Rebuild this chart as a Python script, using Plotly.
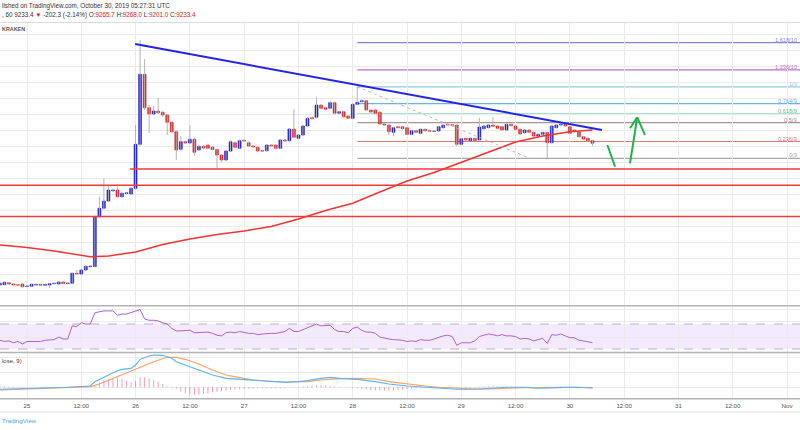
import pandas as pd
import plotly.graph_objects as go
from plotly.subplots import make_subplots

# ---------------- data ----------------
candle_start = "2019-10-24 18:00"   # hourly candles
opens = [7462, 7466, 7491, 7475, 7466, 7475,
         7444, 7448, 7462, 7471, 7458, 7462, 7479, 7475, 7500, 7481,
         7484, 7609, 7600, 7650, 7692, 7692, 8316, 8421, 8512, 8641,
         8650, 8566, 8605, 8600, 8671, 9221, 10096, 9679, 9600, 9637,
         9621, 9587, 9496, 9379, 9159, 9254, 9237, 9284, 9150, 9194,
         9212, 9187, 9156, 9087, 9025, 9137, 9241, 9171, 9271, 9241,
         9200, 9184, 9137, 9141, 9212, 9212, 9171, 9275, 9266, 9412,
         9296, 9337, 9450, 9554, 9559, 9712, 9679, 9671, 9741, 9609,
         9629, 9575, 9546, 9721, 9754, 9766, 9650, 9650, 9621, 9475,
         9462, 9371, 9441, 9441, 9429, 9346, 9391, 9359, 9409, 9391,
         9384, 9387, 9429, 9471, 9466, 9462, 9221, 9296, 9266, 9296,
         9275, 9416, 9429, 9462, 9450, 9441, 9400, 9471, 9450, 9409,
         9366, 9400, 9371, 9325, 9346, 9369, 9241, 9429, 9462, 9471,
         9441, 9400, 9379, 9316, 9296, 9265.7]
highs = [7495, 7510, 7500, 7482, 7475, 7480,
         7458, 7478, 7480, 7476, 7478, 7485, 7492, 7510, 7506, 7495,
         7620, 7650, 7665, 7705, 7712, 8330, 8566, 8796, 8700, 8668,
         8691, 8625, 8630, 8685, 9462, 10525, 10287, 9712, 9704, 9804,
         9640, 9600, 9510, 9395, 9325, 9270, 9462, 9300, 9220, 9212,
         9230, 9200, 9170, 9100, 9150, 9270, 9255, 9280, 9285, 9255,
         9210, 9195, 9150, 9225, 9222, 9220, 9287, 9282, 9425, 9659,
         9350, 9462, 9560, 9565, 9816, 9725, 9690, 9760, 9752, 9640,
         9640, 9585, 9735, 9941, 9780, 9775, 9660, 9662, 9635, 9485,
         9475, 9440, 9452, 9450, 9440, 9402, 9400, 9420, 9418, 9400,
         9395, 9452, 9475, 9480, 9475, 9472, 9300, 9305, 9306, 9305,
         9554, 9460, 9475, 9562, 9460, 9450, 9482, 9480, 9460, 9418,
         9410, 9410, 9380, 9355, 9378, 9380, 9462, 9472, 9500, 9480,
         9450, 9410, 9390, 9325, 9305, 9268.0]
lows = [7455, 7460, 7468, 7455, 7452, 7432,
        7436, 7440, 7455, 7452, 7450, 7425, 7472, 7470, 7476, 7474,
        7478, 7590, 7595, 7640, 7684, 7685, 8300, 8405, 8500, 8625,
        8555, 8550, 8596, 8590, 8660, 9200, 9650, 9362, 9585, 9600,
        9570, 9337, 9360, 9025, 9140, 9225, 9228, 9080, 9135, 9160,
        9160, 9145, 8925, 9000, 9010, 9125, 9170, 9160, 9250, 9190,
        9180, 9125, 9128, 9130, 9190, 9160, 9160, 9252, 9246, 9300,
        9285, 9325, 9440, 9530, 9545, 9655, 9645, 9660, 9595, 9598,
        9555, 9536, 9535, 9710, 9745, 9638, 9612, 9598, 9460, 9450,
        9337, 9325, 9420, 9405, 9335, 9335, 9360, 9348, 9382, 9375,
        9377, 9378, 9420, 9452, 9450, 9200, 9210, 9265, 9258, 9255,
        9265, 9405, 9420, 9437, 9410, 9390, 9390, 9445, 9400, 9340,
        9355, 9362, 9315, 9315, 9335, 9046, 9230, 9420, 9455, 9440,
        9350, 9370, 9305, 9278, 9255, 9201.0]
closes = [7484, 7496, 7475, 7462, 7460, 7441,
          7450, 7471, 7470, 7459, 7471, 7479, 7484, 7500, 7481, 7488,
          7609, 7600, 7650, 7696, 7700, 8316, 8421, 8512, 8650, 8650,
          8566, 8609, 8616, 8671, 9221, 10096, 9679, 9600, 9637, 9616,
          9587, 9496, 9379, 9150, 9254, 9237, 9284, 9121, 9194, 9175,
          9171, 9156, 9087, 9025, 9137, 9254, 9184, 9266, 9262, 9200,
          9187, 9137, 9141, 9212, 9200, 9171, 9275, 9262, 9412, 9309,
          9337, 9450, 9546, 9541, 9712, 9671, 9659, 9741, 9609, 9629,
          9566, 9546, 9721, 9746, 9766, 9650, 9625, 9609, 9475, 9462,
          9379, 9429, 9429, 9416, 9346, 9391, 9371, 9409, 9391, 9384,
          9387, 9441, 9462, 9462, 9459, 9221, 9291, 9275, 9296, 9266,
          9437, 9450, 9462, 9446, 9421, 9400, 9471, 9454, 9409, 9350,
          9400, 9371, 9325, 9346, 9369, 9241, 9450, 9462, 9471, 9450,
          9359, 9379, 9316, 9287, 9266, 9233.4]

# 100-period moving average (red), hours from Oct 25 00:00
ma_hours = [-6, 0, 6, 12, 14, 18, 24, 30, 36, 42, 48, 54, 60, 66, 72, 78, 84,
            90, 96, 102, 108, 114, 120, 125]
ma_values = [7962, 7931, 7888, 7838, 7816, 7825, 7875, 7969, 8038, 8094, 8138,
             8194, 8288, 8394, 8484, 8625, 8762, 8869, 8994, 9125, 9250, 9325,
             9379, 9400]

# drawn descending trend line (blue)
trend_hours = [23.9, 127.1]
trend_prices = [10475, 9400]

# horizontal support lines (red)
support_prices = [8912, 8710, 8320]
support_from_hours = [22.8, -8, -8]

# Fibonacci tool
fib_from_hour = 73.0
fib_to_hour = 111.2
fib_high = 9940
fib_low = 9045
fib_ratios = [1.618, 1.236, 1, 0.764, 0.618, 0.5, 0.236, 0]
fib_labels = ["1.618(10", "1.236(10", "1(9", "0.764(9", "0.618(9", "0.5(9",
              "0.236(9", "0(9"]   # as far as they are visible at the edge
fib_colors = ["#7f86d6", "#b673d6", "#95c9ea", "#6fb3e2", "#5cc497",
              "#a89494", "#e27a7a", "#a8a8a8"]

# RSI (hourly, same timestamps as candles)
rsi_values = [44, 42, 43, 40, 42, 38,
              42, 42, 43, 42, 44, 44, 45, 49, 46, 46,
              67, 66, 72, 70, 70, 88, 90, 91, 91, 91,
              84, 86, 86, 88, 90, 93, 78, 76, 76, 75,
              72, 70, 63, 59, 59, 59, 60, 56, 56, 56,
              57, 55, 52, 51, 56, 57, 56, 58, 56, 55,
              55, 53, 54, 55, 55, 55, 56, 58, 63, 58,
              58, 61, 64, 66, 70, 67, 68, 68, 61, 58,
              58, 56, 63, 65, 60, 57, 57, 55, 49, 47,
              46, 45, 45, 44, 42, 43, 42, 45, 44, 44,
              46, 49, 51, 52, 50, 36, 40, 40, 40, 43,
              50, 52, 54, 53, 51, 53, 51, 51, 50, 46,
              47, 46, 43, 45, 47, 39, 53, 52, 54, 51,
              48, 48, 44, 43, 42, 40]

# MACD (12, 26, close, 9)
macd_hours = [-6, 1, 9, 14, 15, 18, 20, 21, 23, 24, 25, 27, 28, 30, 32, 33, 35,
              38, 41, 44, 47, 50, 53, 57, 60, 62, 65, 67, 69, 73, 77, 80, 84,
              88, 91, 95, 99, 102, 106, 110, 113, 117, 121, 125]
macd_values = [-40, -27, 0, 27, 113, 246, 333, 359, 379, 446, 559, 626, 646,
               639, 579, 513, 446, 346, 246, 179, 159, 133, 113, 99, 113, 133,
               179, 199, 179, 159, 113, 66, 26, 0, -20, -40, -40, -20, 0, 0,
               -20, -7, 0, -13]
signal_hours = [-6, 1, 9, 14, 16, 19, 22, 25, 28, 31, 33, 35, 38, 41, 44, 47,
                50, 53, 57, 60, 62, 65, 69, 73, 77, 80, 84, 88, 91, 95, 99, 102,
                106, 110, 113, 117, 121, 125]
signal_values = [-53, -27, -7, 13, 66, 179, 293, 413, 513, 599, 599, 559, 466,
                 346, 246, 193, 146, 126, 106, 113, 113, 146, 173, 179, 166,
                 113, 66, 26, 0, -20, -33, -33, -13, -7, -7, 0, 0, -7]
hist_values = [20, 20, 15, 15, 10, 10,
               5, 5, 5, 5, 5, 5, 5, 5, 5, 10,
               10, 10, 10, 5, 15, 40, 100, 150, 165, 185,
               200, 165, 130, 100, 130, 200, 200, 180, 145, 115,
               65, 20, -15, -35, -85, -120, -145, -155, -145, -135,
               -120, -100, -85, -80, -65, -55, -40, -35, -35, -25,
               -25, -20, -20, -20, -20, -20, -20, -10, 5, 5,
               10, 20, 25, 35, 40, 40, 35, 30, 20, 10,
               3, -10, -20, -25, -35, -45, -55, -60, -65, -65,
               -65, -60, -55, -45, -35, -25, -20, -15, -10, -10,
               -10, -10, -10, -5, -10, -25, -25, -20, -15, -10,
               5, 15, 20, 20, 20, 15, 15, 10, 5, 3,
               -5, -5, -10, -10, -5, -15, 5, 10, 15, 10,
               5, 3, -5, -5, -10, -10]

tick_labels = ["25", "12:00", "26", "12:00", "27", "12:00", "28", "12:00",
               "29", "12:00", "30", "12:00", "31", "12:00", "Nov"]

# hand-drawn green arrows (hours, prices)
arrow_down_hours = [128.3, 130.0]
arrow_down_prices = [9212, 8941]
arrow_up_hours = [133.3, 134.9]
arrow_up_prices = [8983, 9559]
arrow_head_hours = [133.3, 134.9, 136.6]
arrow_head_prices = [9421, 9559, 9338]

# ---------------- layout helpers ----------------
W, H = 800, 430
T0 = pd.Timestamp("2019-10-25 00:00")
PX_PER_HOUR = 760 / 168.0
X0_PX = 27.0


def t(h):
    return T0 + pd.Timedelta(hours=h)


def py(px):  # pixel from top -> paper fraction
    return 1 - px / H


times = pd.date_range(candle_start, periods=len(opens), freq="h")
x_range = [t(-X0_PX / PX_PER_HOUR), t((W - X0_PX) / PX_PER_HOUR)]
tick_vals = [t(12 * k) for k in range(len(tick_labels))]

UP = "#1a1ad9"
DOWN = "#e21c1c"
FONT = "Liberation Sans, Arial, sans-serif"

fig = make_subplots(rows=3, cols=1, shared_xaxes=True, vertical_spacing=0)

# wicks
wx, wy = [], []
for tm, lo, hi in zip(times, lows, highs):
    wx += [tm, tm, None]
    wy += [lo, hi, None]
fig.add_trace(go.Scatter(x=wx, y=wy, mode="lines",
                         line=dict(color="#b4b4b4", width=1),
                         hoverinfo="skip", showlegend=False), row=1, col=1)

# bodies
body_colors = [UP if c >= o else DOWN for o, c in zip(opens, closes)]
fig.add_trace(go.Bar(x=times, y=[c - o for o, c in zip(opens, closes)],
                     base=opens, width=0.64 * 3600 * 1000,
                     marker=dict(color=body_colors,
                                 line=dict(color=body_colors, width=0.6)),
                     showlegend=False), row=1, col=1)

# moving average
fig.add_trace(go.Scatter(x=[t(h) for h in ma_hours], y=ma_values, mode="lines",
                         line=dict(color="#f03434", width=1.5),
                         showlegend=False), row=1, col=1)

# trend line
fig.add_trace(go.Scatter(x=[t(h) for h in trend_hours], y=trend_prices,
                         mode="lines", line=dict(color="#2424e8", width=2),
                         showlegend=False), row=1, col=1)

# fib diagonal
fig.add_trace(go.Scatter(x=[t(fib_from_hour), t(fib_to_hour)],
                         y=[fib_high, fib_low], mode="lines",
                         line=dict(color="#b8b8b8", width=1, dash="dot"),
                         showlegend=False), row=1, col=1)

shapes = []
annotations = []

# support lines
for p, h0 in zip(support_prices, support_from_hours):
    shapes.append(dict(type="line", xref="x", yref="y", x0=t(h0), x1=t(200),
                       y0=p, y1=p, line=dict(color="#f03a3a", width=1.5),
                       layer="above"))

# fib levels + labels
for r, lab, col in zip(fib_ratios, fib_labels, fib_colors):
    p = fib_low + r * (fib_high - fib_low)
    shapes.append(dict(type="line", xref="x", yref="y", x0=t(fib_from_hour),
                       x1=t(200), y0=p, y1=p,
                       line=dict(color=col, width=1.2), layer="below"))
    annotations.append(dict(xref="paper", yref="y", x=1.0, y=p,
                            xanchor="right", yanchor="middle", yshift=3,
                            xshift=-1, text=lab, showarrow=False,
                            font=dict(size=5.6, color=col, family=FONT)))

# green arrows
green = dict(color="#1fb24a", width=2)
shapes.append(dict(type="line", xref="x", yref="y",
                   x0=t(arrow_down_hours[0]), x1=t(arrow_down_hours[1]),
                   y0=arrow_down_prices[0], y1=arrow_down_prices[1], line=green))
shapes.append(dict(type="line", xref="x", yref="y",
                   x0=t(arrow_up_hours[0]), x1=t(arrow_up_hours[1]),
                   y0=arrow_up_prices[0], y1=arrow_up_prices[1], line=green))
for k in (0, 2):
    shapes.append(dict(type="line", xref="x", yref="y",
                       x0=t(arrow_head_hours[k]), x1=t(arrow_head_hours[1]),
                       y0=arrow_head_prices[k], y1=arrow_head_prices[1],
                       line=green))

# RSI pane
shapes.append(dict(type="rect", xref="x2 domain", yref="y2", x0=0, x1=1,
                   y0=30, y1=70, fillcolor="rgba(170,90,240,0.13)",
                   line=dict(width=0), layer="below"))
for lv in (30, 70):
    shapes.append(dict(type="line", xref="x2 domain", yref="y2", x0=0, x1=1,
                       y0=lv, y1=lv,
                       line=dict(color="#b9b3c0", width=1, dash="dash"),
                       layer="below"))
fig.add_trace(go.Scatter(x=times, y=rsi_values, mode="lines",
                         line=dict(color="#b25fcc", width=1),
                         showlegend=False), row=2, col=1)

# MACD pane
hist_colors = ["rgba(245,110,165,0.75)" if v >= 0 else "rgba(242,90,150,0.7)"
               for v in hist_values]
fig.add_trace(go.Bar(x=times, y=hist_values, width=0.2 * 3600 * 1000,
                     marker=dict(color=hist_colors, line=dict(width=0)),
                     showlegend=False), row=3, col=1)
fig.add_trace(go.Scatter(x=[t(h) for h in signal_hours], y=signal_values,
                         mode="lines", line=dict(color="#ffa05e", width=1.1),
                         showlegend=False), row=3, col=1)
fig.add_trace(go.Scatter(x=[t(h) for h in macd_hours], y=macd_values,
                         mode="lines", line=dict(color="#5db3f5", width=1.1),
                         showlegend=False), row=3, col=1)

# pane borders / separators
shapes.append(dict(type="line", xref="paper", yref="paper", x0=0, x1=1,
                   y0=py(22.5), y1=py(22.5),
                   line=dict(color="#dcdcdc", width=1)))
for ypx in (305.8, 352.5, 398.8):
    shapes.append(dict(type="line", xref="paper", yref="paper", x0=0, x1=1,
                       y0=py(ypx), y1=py(ypx),
                       line=dict(color="#b3b3b3", width=1.6)))
shapes.append(dict(type="line", xref="paper", yref="paper", x0=0, x1=1,
                   y0=py(412), y1=py(412),
                   line=dict(color="#e6e6e6", width=1)))

# texts
annotations += [
    dict(xref="paper", yref="paper", x=0, y=py(6.2), xanchor="left",
         yanchor="middle", showarrow=False,
         text="lished on TradingView.com, October 30, 2019 05:27:31 UTC",
         font=dict(size=6.3, color="#333333", family=FONT)),
    dict(xref="paper", yref="paper", x=0, y=py(14.6), xanchor="left",
         yanchor="middle", showarrow=False,
         text=(", 60 9233.4 <span style='color:#e02020'>▼</span> -202.3 (-2.14%) "
               "O:<span style='color:#e02020'>9265.7</span> "
               "H:<span style='color:#e02020'>9268.0</span> "
               "L:<span style='color:#e02020'>9201.0</span> "
               "C:<span style='color:#e02020'>9233.4</span>"),
         font=dict(size=6.3, color="#333333", family=FONT)),
    dict(xref="paper", yref="paper", x=0, y=py(29.3), xanchor="left",
         yanchor="middle", showarrow=False, text="<b>KRAKEN</b>",
         font=dict(size=5.4, color="#555555", family=FONT)),
    dict(xref="paper", yref="paper", x=0, y=py(361), xanchor="left",
         yanchor="middle", showarrow=False, text="lose, 9)",
         font=dict(size=6, color="#444444", family=FONT)),
    dict(xref="paper", yref="paper", x=0, y=py(420.5), xanchor="left",
         yanchor="middle", showarrow=False, text="TradingView",
         font=dict(size=6.2, color="#4aa8e0", family=FONT)),
]

grid = "#ebebeb"
fig.update_xaxes(range=x_range, tickvals=tick_vals, ticktext=tick_labels,
                 showgrid=True, gridcolor=grid, gridwidth=1, zeroline=False,
                 showline=False, ticks="", rangeslider_visible=False,
                 automargin=False, ticklabelstandoff=2,
                 tickfont=dict(size=6.2, color="#555555", family=FONT))
fig.update_xaxes(showticklabels=False, row=1, col=1)
fig.update_xaxes(showticklabels=False, row=2, col=1)
fig.update_xaxes(showticklabels=True, row=3, col=1)

fig.update_layout(
    width=W, height=H,
    margin=dict(l=0, r=0, t=0, b=0, pad=0, autoexpand=False),
    paper_bgcolor="white", plot_bgcolor="white",
    barmode="overlay", showlegend=False, hovermode=False,
    shapes=shapes, annotations=annotations,
    yaxis=dict(domain=[py(305.5), py(22.5)], range=[7206.25, 10743.75],
               tickvals=list(range(7400, 10601, 200)), showticklabels=False,
               gridcolor=grid, zeroline=False, showline=False,
               automargin=False),
    yaxis2=dict(domain=[py(352), py(306)], range=[25.2, 98.8],
                tickvals=[48.7, 73.7, 93.5], showticklabels=False,
                gridcolor=grid, zeroline=False, showline=False,
                automargin=False),
    yaxis3=dict(domain=[py(398.5), py(353)], range=[-224, 686],
                tickvals=[0, 292, 606], showticklabels=False,
                gridcolor=grid, zeroline=False, showline=False,
                automargin=False),
)

fig.write_html(
    "out.html",
    config={"displayModeBar": False},
    post_script="document.body.style.margin='0';"
                "document.body.style.overflow='hidden';",
)
